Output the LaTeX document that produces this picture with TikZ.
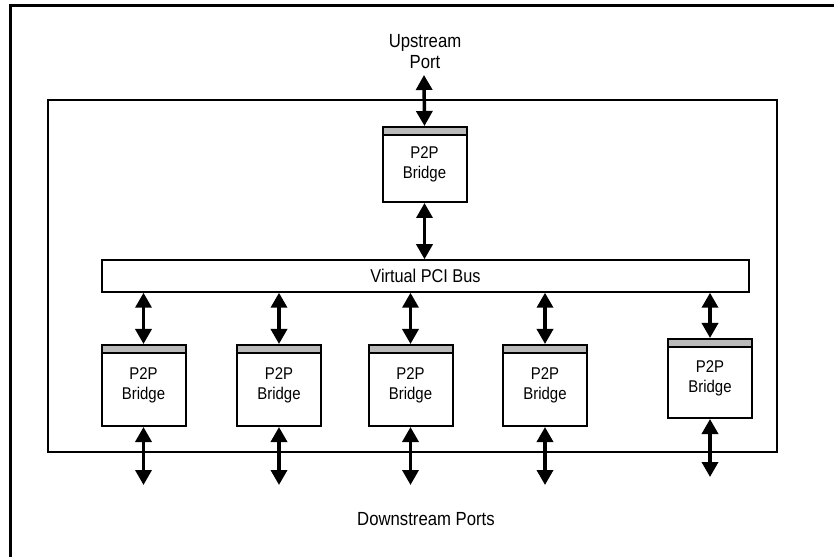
\documentclass[tikz,border=0pt]{standalone}
\usepackage{fontspec}
\setmainfont{Liberation Sans}[FakeStretch=0.88]
\usetikzlibrary{arrows.meta}
\begin{document}
\begin{tikzpicture}[x=1pt,y=1pt,
  txt/.style={font=\fontsize{19}{21}\selectfont,align=center,inner sep=0pt},
  bridgebox/.style={draw,line width=2pt,minimum width=84pt,inner sep=0pt,align=center,
    font=\fontsize{17}{20}\selectfont,
    path picture={\fill[black!27] (path picture bounding box.north west) rectangle ([yshift=-8pt]path picture bounding box.north east);
      \draw[line width=1.5pt] ([yshift=-8pt]path picture bounding box.north west) -- ([yshift=-8pt]path picture bounding box.north east);}},
  link/.style={line width=3.5pt,{Triangle[width=16pt,length=15pt]}-{Triangle[width=16pt,length=15pt]}}
]
\useasboundingbox (0,0) rectangle (834,557);
% outer frame (left and top edges only)
\draw[line width=3pt] (10,0) -- (10,551) -- (834,551);
% inner box
\node[draw,line width=1.5pt,minimum width=729pt,minimum height=352pt,inner sep=0pt] (frame) at (412.5,281) {};
% upstream
\node[txt] (up) at (425,505) {Upstream\\Port};
\coordinate (upend) at (424,482);
\node[bridgebox,minimum height=75pt] (tb) at (424.5,392.5) {P2P\\Bridge};
% bus
\node[draw,line width=1.5pt,minimum width=647pt,minimum height=32pt,inner sep=0pt,font=\fontsize{18.5}{20}\selectfont] (bus) at (425.5,281) {Virtual PCI Bus};
% bottom bridges
\node[bridgebox,minimum height=81pt] (b1) at (143.5,171.5) {P2P\\Bridge};
\node[bridgebox,minimum height=81pt] (b2) at (279,171.5) {P2P\\Bridge};
\node[bridgebox,minimum height=81pt] (b3) at (410.5,171.5) {P2P\\Bridge};
\node[bridgebox,minimum height=81pt] (b4) at (545,171.5) {P2P\\Bridge};
\node[bridgebox,minimum height=79pt] (b5) at (710,178.5) {P2P\\Bridge};
\coordinate (d1) at (143.5,72);
\coordinate (d2) at (279,72);
\coordinate (d3) at (410.5,72);
\coordinate (d4) at (545,72);
\coordinate (d5) at (710,80);
\node[txt] (down) at (426,38) {Downstream Ports};
% connectors
\draw[link] (upend) -- (tb.north);
\draw[link] (tb.south) -- (bus.north -| tb.south);
\foreach \b in {b1,b2,b3,b4,b5}{
  \draw[link] (bus.south -| \b.north) -- (\b.north);
}
\foreach \b/\d in {b1/d1,b2/d2,b3/d3,b4/d4,b5/d5}{
  \draw[link] (\b.south) -- (\d);
}
\end{tikzpicture}
\end{document}
